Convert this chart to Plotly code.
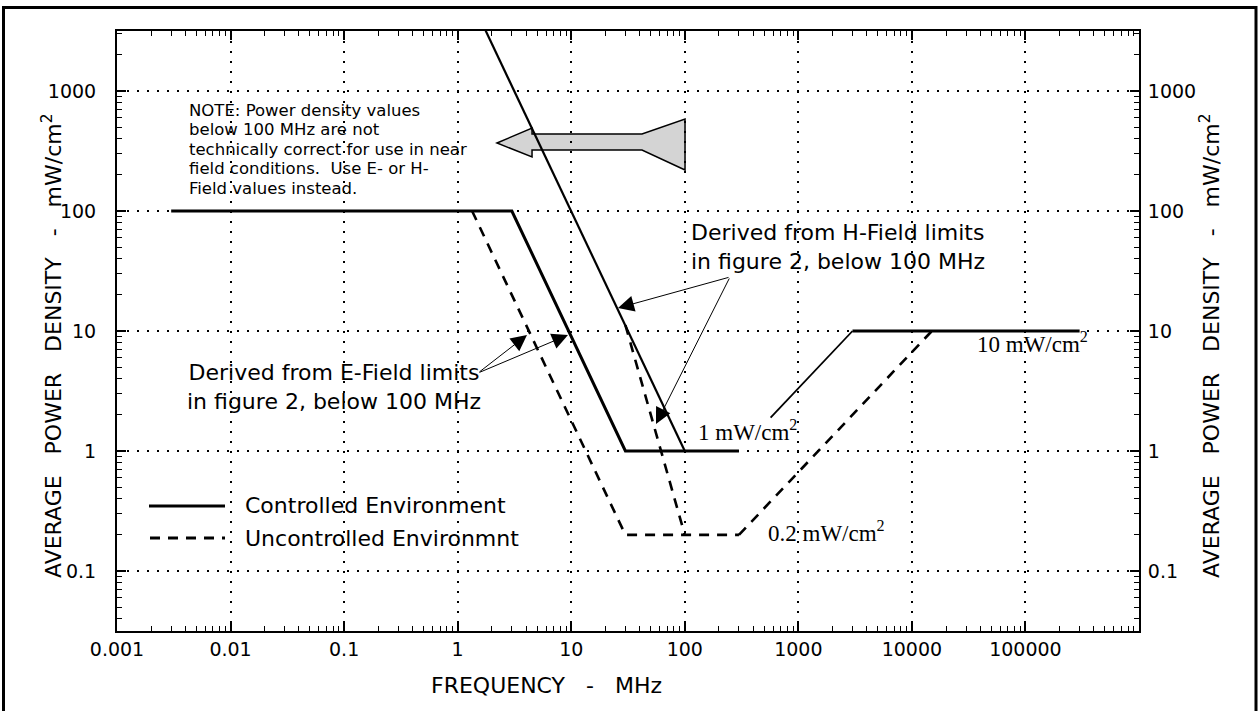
import plotly.graph_objects as go

# break points: frequency in MHz, power density in mW/cm2
ctrl_e_freq = [0.003, 3, 30, 300]
ctrl_e_pd = [100, 100, 1, 1]
ctrl_h_freq = [1.5, 100]
ctrl_h_pd = [4400, 1]
ctrl_rise_freq = [570, 3000]
ctrl_rise_pd = [1.9, 10]
ctrl_top_freq = [3000, 300000]
ctrl_top_pd = [10, 10]

unc_e_freq = [1.34, 30, 300]
unc_e_pd = [100, 0.2, 0.2]
unc_h_freq = [30, 100]
unc_h_pd = [11.2, 0.2]
unc_rise_freq = [300, 15000]
unc_rise_pd = [0.2, 10]

x_ticks = [0.001, 0.01, 0.1, 1, 10, 100, 1000, 10000, 100000]
x_labels = ["0.001", "0.01", "0.1", "1", "10", "100", "1000", "10000", "100000"]
y_ticks = [0.1, 1, 10, 100, 1000]
y_labels = ["0.1", "1", "10", "100", "1000"]

W, H = 1260, 711
L, R, T, B = 117, 1139, 31, 631


def px(x):
    return (x - L) / (R - L)


def py(y):
    return (B - y) / (B - T)


SANS = "DejaVu Sans"
SERIF = "Liberation Serif"
DASH = "10px,8px"

fig = go.Figure()


def line(xs, ys, width, dash="solid", yaxis="y"):
    fig.add_trace(go.Scatter(x=xs, y=ys, mode="lines", yaxis=yaxis,
                             line=dict(color="black", width=width, dash=dash),
                             showlegend=False, hoverinfo="skip"))


line(ctrl_e_freq, ctrl_e_pd, 3)
line(ctrl_h_freq, ctrl_h_pd, 2.2)
line(ctrl_rise_freq, ctrl_rise_pd, 1.8)
line(ctrl_top_freq, ctrl_top_pd, 3)
line(unc_e_freq, unc_e_pd, 2.6, DASH)
line(unc_h_freq, unc_h_pd, 2.6, DASH)
line(unc_rise_freq, unc_rise_pd, 2.6, DASH, yaxis="y2")

# minor tick positions 2..9 inside every decade
x_minor = [m * 10.0 ** e for e in range(-3, 6) for m in range(2, 10)]
y_minor = [m * 10.0 ** e for e in range(-2, 4) for m in range(2, 10)]

tickfont = dict(family=SANS, size=19, color="black")


def axis(vals, labels, minor_vals, **kw):
    d = dict(type="log", tickmode="array", tickvals=vals, ticktext=labels,
             ticks="inside", ticklen=9, tickwidth=1.5, tickcolor="black",
             showline=True, linecolor="black", linewidth=2, zeroline=False,
             tickfont=tickfont,
             minor=dict(tickmode="array", tickvals=minor_vals, ticks="inside",
                        ticklen=5, tickwidth=1.2, tickcolor="black",
                        showgrid=False))
    d.update(kw)
    return d


grid = dict(showgrid=True, gridcolor="black", griddash="2px,8px",
            gridwidth=1.5)

fig.update_layout(
    width=W, height=H,
    margin=dict(l=L, r=W - R, t=T, b=H - B, pad=0),
    plot_bgcolor="white", paper_bgcolor="white",
    xaxis=axis(x_ticks, x_labels, x_minor, range=[-3, 6], mirror="ticks",
               ticklabelstandoff=0, **grid),
    yaxis=axis(y_ticks, y_labels, y_minor, range=[-1.5, 3.5],
               ticklabelstandoff=15, **grid),
    yaxis2=axis(y_ticks, y_labels, y_minor, range=[-1.5, 3.5],
                overlaying="y", side="right", showgrid=False,
                ticklabelstandoff=3),
)

ann = []


def text(x, y, s, size=22, family=SANS, xanchor="center", align="center",
         angle=0):
    ann.append(dict(x=px(x), y=py(y), xref="paper", yref="paper", text=s,
                    showarrow=False, xanchor=xanchor, yanchor="middle",
                    align=align, textangle=angle,
                    font=dict(family=family, size=size, color="black")))


def arrow(x0, y0, x1, y1):
    ann.append(dict(x=px(x1), y=py(y1), xref="paper", yref="paper", text="",
                    showarrow=True, ax=x0 - x1, ay=y0 - y1, axref="pixel",
                    ayref="pixel", arrowhead=2, arrowsize=3.2, arrowwidth=1,
                    arrowcolor="black", standoff=0))


sp = "\u00a0" * 3
text(546, 686, "FREQUENCY" + sp + "-" + sp + "MHz", size=22)
ytitle = "AVERAGE" + sp + "POWER" + sp + "DENSITY" + sp + "-" + sp + "mW/cm<sup>2</sup>"
text(52, 346, ytitle, angle=-90)
text(1210, 346, ytitle, angle=-90)

note_lines = ["NOTE: Power density values", "below 100 MHz are not",
              "technically correct for use in near",
              "field conditions.  Use E- or H-", "Field values instead."]
for i, s in enumerate(note_lines):
    text(187, 110 + 19.5 * i, s.replace("  ", "\u00a0 "), size=16.5,
         xanchor="left", align="left")

text(689, 247, "Derived from H-Field limits<br>in figure 2, below 100 MHz",
     xanchor="left", align="left")
text(334, 387, "Derived from E-Field limits<br>in figure 2, below 100 MHz")

arrow(730, 277, 618, 308)
arrow(730, 277, 656, 424)
arrow(478, 373, 527, 335)
arrow(478, 373, 568, 335)

text(975, 342, "10 mW/cm<sup>2</sup>", size=23, family=SERIF, xanchor="left")
text(696, 430, "1 mW/cm<sup>2</sup>", size=23, family=SERIF, xanchor="left")
text(766, 531, "0.2 mW/cm<sup>2</sup>", size=23, family=SERIF, xanchor="left")

# hand drawn legend
text(243, 505, "Controlled Environment", xanchor="left", align="left")
text(243, 538, "Uncontrolled Environmnt", xanchor="left", align="left")

shapes = [
    dict(type="line", xref="paper", yref="paper", x0=px(149), x1=px(225),
         y0=py(506), y1=py(506), line=dict(color="black", width=3)),
    dict(type="line", xref="paper", yref="paper", x0=px(150), x1=px(225),
         y0=py(538), y1=py(538),
         line=dict(color="black", width=3, dash=DASH)),
    dict(type="rect", xref="paper", yref="paper", x0=px(3.5), x1=px(1256),
         y0=py(740), y1=py(7.5), line=dict(color="black", width=3)),
]

# stippled block arrow pointing left
pts = [(497, 143), (532, 128), (532, 134), (642, 134), (685, 119),
       (685, 170), (642, 150), (532, 150), (532, 157)]
path = "M " + " L ".join(f"{px(a):.4f},{py(b):.4f}" for a, b in pts) + " Z"
shapes.append(dict(type="path", xref="paper", yref="paper", path=path,
                   fillcolor="#d4d4d4", layer="between",
                   line=dict(color="black", width=1.5)))

fig.update_layout(annotations=ann, shapes=shapes)

fig.write_html("out.html", config={"displayModeBar": False},
               post_script="document.body.style.margin='0';"
                           "document.body.style.overflow='hidden';")
